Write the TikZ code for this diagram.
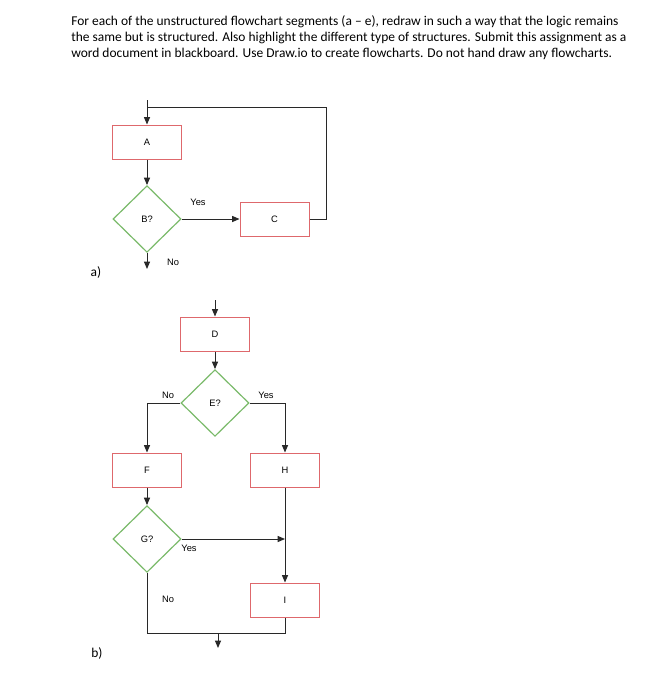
\documentclass[tikz,border=0pt]{standalone}
\usepackage{fontspec}
\setmainfont{Carlito}
\newfontfamily\chartfont{Liberation Sans}
\usetikzlibrary{shapes.geometric,arrows.meta}

\definecolor{boxred}{RGB}{222,104,108}
\definecolor{diagreen}{RGB}{122,186,106}
\definecolor{lineink}{RGB}{40,40,40}

\begin{document}
\begin{tikzpicture}[x=0.75pt,y=-0.75pt,
  procbox/.style={draw=boxred,line width=0.75pt,minimum width=51.75pt,minimum height=25.5pt,inner sep=0pt,font=\chartfont\fontsize{7}{8}\selectfont},
  decision/.style={diamond,aspect=1,draw=diagreen,line width=0.9pt,minimum width=51pt,minimum height=50pt,inner sep=0pt,font=\chartfont\fontsize{7}{8}\selectfont},
  flow/.style={draw=lineink,line width=0.75pt},
  arr/.style={flow,-{Triangle[length=5.5pt,width=4.5pt]}},
  lbl/.style={inner sep=0pt,font=\chartfont\fontsize{7}{8}\selectfont},
  task/.style={anchor=base west,inner sep=0pt,font=\fontsize{10.1}{12}\selectfont}]
  \fill[white] (0,0) rectangle (661,700);
  \useasboundingbox (0,0) rectangle (661,700);

  % assignment text
  \node[task] (t1) at (71,25) {For each of the unstructured flowchart segments (a – e), redraw in such a way that the logic remains};
  \node[task] (t2) at (71,41) {the same but is structured. Also highlight the different type of structures. Submit this assignment as a};
  \node[task] (t3) at (71,57) {word document in blackboard. Use Draw.io to create flowcharts. Do not hand draw any flowcharts.};

  % a)
  \coordinate (aIn) at (147,100);
  \coordinate (aJoin) at (147,107);
  \coordinate (aLoop) at (326,107);
  \coordinate (aOut) at (147,269);
  \node[procbox] (A) at (147,142) {A};
  \node[decision] (B) at (147,219) {B?};
  \node[procbox] (C) at (274.5,219) {C};
  \draw[arr] (aIn) -- (A.north);
  \draw[arr] (A.south) -- (B.north);
  \draw[arr] (B.east) -- (C.west);
  \draw[flow] (C.east) -| (aLoop) -- (aJoin);
  \draw[arr] (B.south) -- (aOut);
  \node[lbl] (bYes) at (198,202) {Yes};
  \node[lbl] (bNo) at (173,262) {No};
  \node[lbl,font=\fontsize{10.1}{12}\selectfont] (partA) at (96,273) {a)};

  % b)
  \coordinate (dIn) at (215,300);
  \node[procbox] (D) at (215,334) {D};
  \node[decision] (E) at (215,403) {E?};
  \node[procbox] (F) at (147,470) {F};
  \node[procbox] (H) at (285,470) {H};
  \node[decision] (G) at (147,539) {G?};
  \node[procbox] (I) at (285,600) {I};
  \coordinate (gJoin) at (285,539);
  \coordinate (bL) at (147,633);
  \coordinate (bR) at (285,633);
  \coordinate (bMid) at (218,633);
  \coordinate (bOut) at (218,648);
  \draw[arr] (dIn) -- (D.north);
  \draw[arr] (D.south) -- (E.north);
  \draw[arr] (E.west) -| (F.north);
  \draw[arr] (E.east) -| (H.north);
  \draw[arr] (F.south) -- (G.north);
  \draw[arr] (G.east) -- (gJoin);
  \draw[arr] (H.south) -- (I.north);
  \draw[flow] (G.south) -- (bL) -- (bR) -- (I.south);
  \draw[arr] (bMid) -- (bOut);
  \node[lbl] (eNo) at (168,395) {No};
  \node[lbl] (eYes) at (266,395) {Yes};
  \node[lbl] (gYes) at (189,548) {Yes};
  \node[lbl] (gNo) at (168,599) {No};
  \node[lbl,font=\fontsize{10.1}{12}\selectfont] (partB) at (97,654) {b)};
\end{tikzpicture}
\end{document}
